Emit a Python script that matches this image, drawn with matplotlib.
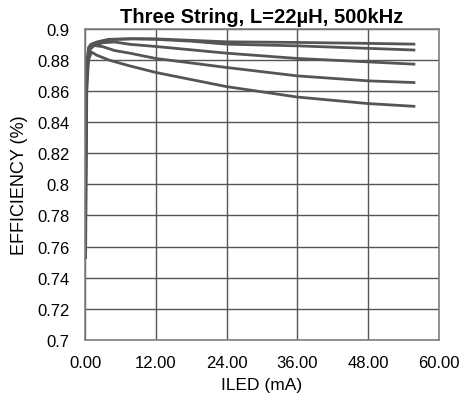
import numpy as np
import matplotlib.pyplot as plt
from matplotlib.ticker import FuncFormatter

plt.rcParams['font.family'] = ['Liberation Sans', 'DejaVu Sans']

# LED current (mA) and efficiency for five curves
x1 = [0.1, 0.3, 0.6, 1.0, 2.0, 4.0, 8.0, 12.0, 24.0, 36.0, 48.0, 56.0]
y1 = [0.80, 0.875, 0.888, 0.890, 0.8915, 0.8932, 0.8936, 0.8935, 0.8916, 0.8912, 0.8906, 0.8901]

x2 = [0.1, 0.3, 0.6, 1.0, 2.0, 4.0, 8.0, 12.0, 18.0, 24.0, 36.0, 48.0, 56.0]
y2 = [0.78, 0.870, 0.884, 0.888, 0.891, 0.893, 0.8935, 0.8932, 0.892, 0.8901, 0.8890, 0.8874, 0.8863]

x3 = [0.1, 0.3, 0.6, 1.5, 3.0, 5.0, 7.6, 12.0, 24.0, 36.0, 48.0, 56.0]
y3 = [0.82, 0.878, 0.886, 0.889, 0.891, 0.8915, 0.890, 0.8886, 0.8843, 0.8809, 0.8787, 0.8772]

x4 = [0.1, 0.3, 0.7, 1.4, 3.0, 5.0, 7.6, 12.0, 24.0, 36.0, 48.0, 56.0]
y4 = [0.84, 0.870, 0.886, 0.8893, 0.8885, 0.886, 0.8843, 0.8809, 0.8751, 0.8697, 0.8665, 0.8654]

x5 = [0.1, 0.3, 0.6, 1.1, 2.0, 4.2, 7.6, 12.0, 24.0, 36.0, 48.0, 56.0]
y5 = [0.752, 0.860, 0.880, 0.885, 0.883, 0.8797, 0.8761, 0.8719, 0.8628, 0.8561, 0.8519, 0.8501]

series = [(x1, y1), (x2, y2), (x3, y3), (x4, y4), (x5, y5)]

fig = plt.figure(figsize=(4.63, 4.02), dpi=100)
ax = fig.add_axes([0.1836, 0.152, 0.7644, 0.774])

for xs, ys in series:
    ax.plot(xs, ys, color='#555555', lw=2.0, solid_capstyle='butt')

ax.set_xlim(0, 60)
ax.set_ylim(0.7, 0.9)
ax.set_xticks(np.arange(0, 61, 12))
ax.set_yticks(np.arange(0.7, 0.9001, 0.02))
ax.xaxis.set_major_formatter(FuncFormatter(lambda v, p: f"{v:.2f}"))
ax.yaxis.set_major_formatter(FuncFormatter(lambda v, p: f"{v:.2f}".rstrip('0')))
ax.tick_params(length=0, labelsize=12, colors='black')
ax.tick_params(axis='x', pad=11)
ax.tick_params(axis='y', pad=11)
ax.grid(True, color='#555555', lw=1.0)
ax.set_axisbelow(True)
for s in ax.spines.values():
    s.set_color('#808080')
    s.set_linewidth(1.2)

ax.set_title("Three String, L=22µH, 500kHz", fontsize=14.5, fontweight='bold', pad=5)
ax.set_xlabel("ILED (mA)", fontsize=12.5, labelpad=5)
ax.set_ylabel("EFFICIENCY (%)", fontsize=13, labelpad=7)

fig.savefig('out.png', dpi=100)
